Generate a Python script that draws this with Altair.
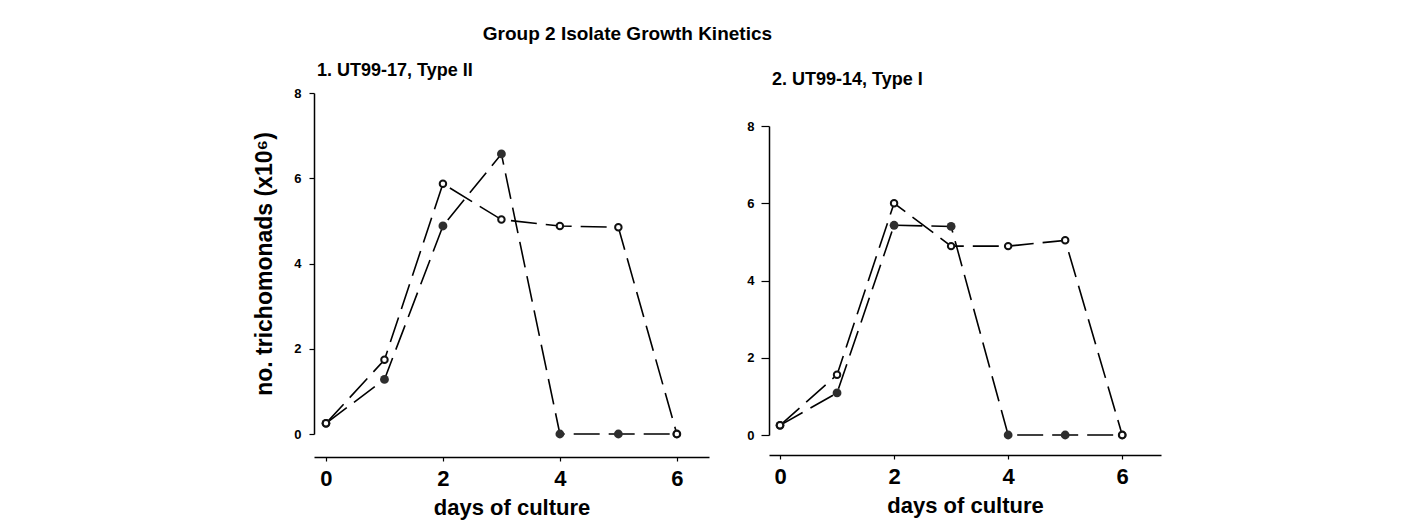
import altair as alt
import pandas as pd

FONT = "Liberation Sans"

days = [0, 1, 2, 3, 4, 5, 6]
x_ticks = [0, 2, 4, 6]
y_ticks = [0, 2, 4, 6, 8]

# Panel 1: UT99-17, Type II
p1_open = [0.25, 1.74, 5.87, 5.03, 4.88, 4.85, 0.0]
p1_filled = [0.25, 1.28, 4.88, 6.57, 0.0, 0.0, 0.0]
# Panel 2: UT99-14, Type I
p2_open = [0.25, 1.56, 6.00, 4.89, 4.89, 5.04, 0.0]
p2_filled = [0.25, 1.09, 5.43, 5.40, 0.0, 0.0, 0.0]

main_title = "Group 2 Isolate Growth Kinetics"
p1_title = "1. UT99-17, Type II"
p2_title = "2. UT99-14, Type I"
x_title = "days of culture"
y_title = "no. trichomonads (x10\u2076)"


def make_df(open_vals, filled_vals):
    rows = []
    for d, v in zip(days, filled_vals):
        rows.append({"day": d, "value": v, "series": "filled"})
    for d, v in zip(days, open_vals):
        rows.append({"day": d, "value": v, "series": "open"})
    return pd.DataFrame(rows)


def panel_title(text, offset):
    return alt.TitleParams(text=text, anchor="start", frame="group",
                           font=FONT, fontSize=18, fontWeight="bold",
                           color="black", offset=offset, dx=3,
                           baseline="alphabetic")


def panel(df, xdom, width, height, x_offset, y_tick, y_pad, show_ytitle, title=None):
    xaxis = alt.Axis(values=x_ticks, offset=x_offset, tickSize=4, labelPadding=7,
                     labelFont=FONT, labelFontSize=22, labelFontWeight="bold",
                     labelColor="black", title=x_title, titleFont=FONT,
                     titleFontSize=22, titleFontWeight="bold", titleColor="black",
                     titlePadding=8, domainColor="black", domainWidth=1.5,
                     tickColor="black", tickWidth=1.2, grid=False)
    yaxis_kw = dict(values=y_ticks, tickSize=y_tick, labelPadding=y_pad,
                    labelFont=FONT, labelFontSize=13, labelFontWeight="bold",
                    labelColor="black", domainColor="black", domainWidth=1.5,
                    tickColor="black", tickWidth=1.2, grid=False)
    if show_ytitle:
        yaxis = alt.Axis(title=y_title, titleFont=FONT, titleFontSize=23,
                         titleFontWeight="bold", titleColor="black",
                         titlePadding=17, **yaxis_kw)
    else:
        yaxis = alt.Axis(title=None, **yaxis_kw)

    base = alt.Chart(df).encode(
        x=alt.X("day:Q", scale=alt.Scale(domain=xdom, nice=False, zero=False), axis=xaxis),
        y=alt.Y("value:Q", scale=alt.Scale(domain=[0, 8], nice=False), axis=yaxis),
    )
    lines = base.mark_line(color="black", strokeWidth=1.6, strokeDash=[26, 9]).encode(
        detail="series:N", order="day:Q")
    filled = base.transform_filter(alt.datum.series == "filled").mark_point(
        shape="circle", filled=True, size=78, color="#2e2e2e", opacity=1)
    openp = base.transform_filter(alt.datum.series == "open").mark_point(
        shape="circle", filled=True, fill="white", stroke="#111", strokeWidth=2,
        size=42, opacity=1)
    props = dict(width=width, height=height)
    if title is not None:
        props["title"] = title
    return alt.layer(lines, filled, openp).properties(**props)


c1 = panel(make_df(p1_open, p1_filled), [-0.205, 6.55], 395, 341, 23, 5, 8, True,
           title=panel_title(p1_title, -7))

# panel 2 sits lower than panel 1: an empty band carries its title
spacer = alt.Chart(pd.DataFrame({"a": [0]})).mark_point(opacity=0).encode(
    x=alt.value(0), y=alt.value(0)
).properties(width=392, height=27, title=panel_title(p2_title, -13))
c2 = panel(make_df(p2_open, p2_filled), [-0.193, 6.68], 392, 309, 20, 8, 7, False)
right = alt.vconcat(spacer, c2, spacing=0)

chart = alt.hconcat(c1, right, spacing=37).properties(
    title=alt.TitleParams(text=main_title, anchor="start", dx=229, offset=18,
                          font=FONT, fontSize=19, fontWeight="bold", color="black"),
    padding={"left": 245, "top": 17, "right": 5, "bottom": 5},
).configure(background="white").configure_view(strokeWidth=0, stroke="transparent")

chart.save("out.html", embed_options={"renderer": "svg", "actions": False})
